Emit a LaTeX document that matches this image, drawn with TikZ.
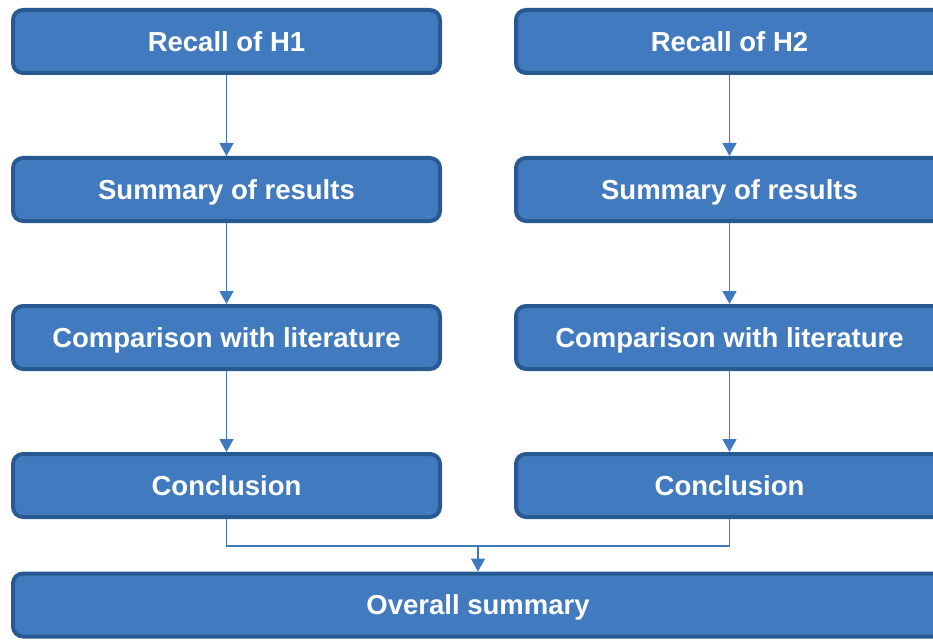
\documentclass[tikz,border=0pt]{standalone}
\usepackage{fontspec}
\setmainfont{Liberation Sans}
\usetikzlibrary{arrows.meta}
\definecolor{boxfill}{RGB}{65,122,190}
\definecolor{boxedge}{RGB}{40,90,145}
\definecolor{linkcol}{RGB}{62,122,192}
\tikzset{
  box/.style={draw=boxedge, fill=boxfill, line width=4pt, rounded corners=10pt,
    minimum width=427pt, minimum height=63pt, inner sep=0pt, text=white,
    text depth=0pt, font=\fontsize{27.5}{32}\selectfont\bfseries},
  link/.style={draw=linkcol, line width=1.6pt},
  arr/.style={link, -{Triangle[width=14pt,length=13pt]}}
}
\begin{document}
\begin{tikzpicture}[x=1pt,y=1pt]
\useasboundingbox (0,0) rectangle (933,-639);
\node[box] (l1) at (226.5,-41.5) {Recall of H1};
\node[box] (l2) at (226.5,-189.5) {Summary of results};
\node[box] (l3) at (226.5,-337.5) {Comparison with literature};
\node[box] (l4) at (226.5,-485.5) {Conclusion};
\node[box] (r1) at (729.5,-41.5) {Recall of H2};
\node[box] (r2) at (729.5,-189.5) {Summary of results};
\node[box] (r3) at (729.5,-337.5) {Comparison with literature};
\node[box] (r4) at (729.5,-485.5) {Conclusion};
\node[box, minimum width=932pt] (ov) at (479,-605) {\hspace*{-2pt}Overall summary};
\coordinate (m) at (478,-546);
\draw[arr] (l1.south) -- (l2.north);
\draw[arr] (l2.south) -- (l3.north);
\draw[arr] (l3.south) -- (l4.north);
\draw[arr] (r1.south) -- (r2.north);
\draw[arr] (r2.south) -- (r3.north);
\draw[arr] (r3.south) -- (r4.north);
\draw[link] (l4.south) |- (m);
\draw[link] (r4.south) |- (m);
\draw[arr] (m) -- (m |- ov.north);
\end{tikzpicture}
\end{document}
